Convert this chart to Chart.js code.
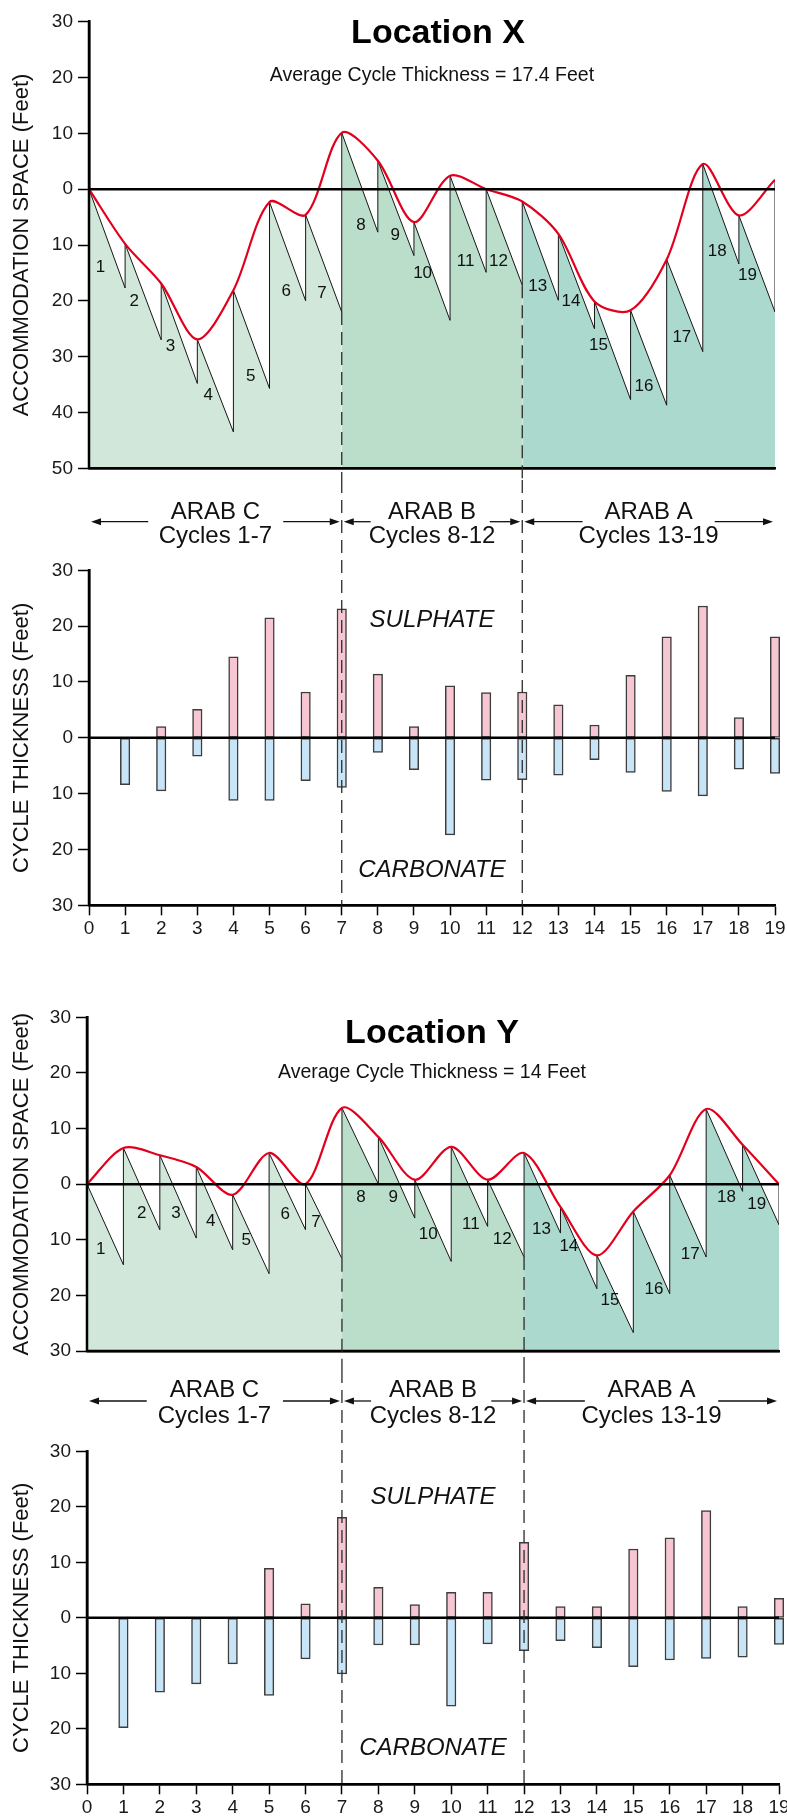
<!DOCTYPE html>
<html>
<head>
<meta charset="utf-8">
<script src="https://cdn.jsdelivr.net/npm/chart.js@4.4.0/dist/chart.umd.min.js"></script>
<style>
html,body{margin:0;padding:0;background:#fff;width:787px;height:1816px;overflow:hidden}
canvas{position:absolute;left:0;display:block}
</style>
</head>
<body>
<canvas id="c1" width="787" height="480" style="top:0px"></canvas>
<canvas id="c2" width="787" height="480" style="top:480px"></canvas>
<canvas id="c3" width="787" height="410" style="top:960px"></canvas>
<canvas id="c4" width="787" height="446" style="top:1370px"></canvas>
<script>
// ---------------- DATA ----------------
const cycles = [1,2,3,4,5,6,7,8,9,10,11,12,13,14,15,16,17,18,19];
const xTickValues = [0,1,2,3,4,5,6,7,8,9,10,11,12,13,14,15,16,17,18,19];
const accomTicksX = [-50,-40,-30,-20,-10,0,10,20,30];
const accomTicksY = [-30,-20,-10,0,10,20,30];
const thicknessTicks = [-30,-20,-10,0,10,20,30];

// Location X: peaks P0..P19 (top of each cycle) and bottoms B1..B19
const locXPeaks = [0, -9.8, -16.9, -26.9, -18.1, -2.3, -4.6, 10.1, 5.1, -5.9, 2.4, 0, -2.2, -8.0, -20.1, -21.7, -12.6, 4.5, -4.7, 1.7];
const locXBottoms = [-17.7, -27.0, -34.8, -43.5, -35.7, -20.0, -22.0, -7.7, -11.9, -23.5, -14.9, -17.2, -19.9, -25.0, -37.7, -38.7, -29.1, -13.4, -22.0];
const locXSulphate = [0, 2.0, 5.1, 14.5, 21.5, 8.2, 23.1, 11.4, 2.0, 9.3, 8.1, 8.2, 5.9, 2.3, 11.2, 18.1, 23.6, 3.6, 18.1];
const locXCarbonate = [8.4, 9.5, 3.3, 11.2, 11.2, 7.7, 8.9, 2.6, 5.7, 17.4, 7.6, 7.5, 6.7, 3.9, 6.2, 9.6, 10.4, 5.6, 6.4];

// Location Y
const locYPeaks = [0, 6.5, 5.2, 3.1, -1.9, 5.6, 0, 13.7, 8.5, 0.8, 6.7, 0.8, 5.6, -4.1, -12.8, -4.9, 1.6, 13.5, 7.1, 0];
const locYBottoms = [-14.5, -8.2, -9.7, -11.8, -16.1, -8.2, -13.4, 0, -6.1, -13.9, -7.6, -13.1, -8.8, -18.8, -26.7, -19.7, -13.1, -1.3, -7.3];
const locYSulphate = [0, 0, 0, 0, 8.9, 2.5, 18.1, 5.5, 2.4, 4.6, 4.6, 13.6, 2.0, 2.0, 12.4, 14.4, 19.3, 2.0, 3.5];
const locYCarbonate = [19.8, 13.4, 11.9, 8.3, 14.0, 7.4, 10.1, 4.9, 4.9, 15.9, 4.7, 5.9, 4.1, 5.4, 8.8, 7.6, 7.3, 7.1, 4.8];

const unitNames = ['ARAB C', 'ARAB B', 'ARAB A'];
const unitCycleText = ['Cycles 1-7', 'Cycles 8-12', 'Cycles 13-19'];
const unitBounds = [0, 7, 12, 19];

// ---------------- ANNOTATION PLACEMENT (data units) ----------------
const locXLabelAt = [[0.32,-14.06],[1.25,-20.03],[2.26,-28.09],[3.30,-36.87],[4.48,-33.46],[5.46,-18.36],[6.45,-18.65],
  [7.53,-6.41],[8.48,-8.20],[9.24,-15.06],[10.43,-12.99],[11.34,-12.99],[12.43,-17.34],[13.35,-20.03],[14.11,-27.91],
  [15.37,-35.38],[16.42,-26.6],[17.40,-11.07],[18.24,-15.49]];
const locYLabelAt = [[0.38,-11.66],[1.50,-5.24],[2.44,-5.24],[3.40,-6.75],[4.37,-10.04],[5.44,-5.37],[6.29,-6.93],
  [7.52,-2.44],[8.41,-2.44],[9.37,-9.02],[10.54,-7.22],[11.40,-9.86],[12.48,-8.12],[13.23,-11.25],[14.36,-20.83],
  [15.57,-18.9],[16.56,-12.61],[17.56,-2.36],[18.39,-3.57]];
const arrowSpans = [[0,1.64,'L'],[5.38,7,'R'],[7,7.8,'L'],[11.1,12,'R'],[12,13.67,'L'],[17.33,19,'R']];

// ---------------- STYLE ----------------
const FONT = "'Liberation Sans', Arial, Helvetica, sans-serif";
Chart.defaults.font.family = FONT;
Chart.defaults.color = '#1a1a1a';
const RED = '#e2001d';
const REGION_FILL = ['#d0e7da', '#badeca', '#acd9cd'];
const SULPH_FILL = '#f7c6d3';
const CARB_FILL = '#c8e5f7';

function seg(ctx, x1, y1, x2, y2) { ctx.beginPath(); ctx.moveTo(x1, y1); ctx.lineTo(x2, y2); ctx.stroke(); }
function dashed(ctx, x, y1, y2) {
  ctx.save(); ctx.strokeStyle = '#2a2a2a'; ctx.lineWidth = 1.3; ctx.setLineDash([13, 7]);
  seg(ctx, x, y1, x, y2); ctx.restore();
}
function arrowHead(ctx, x, y, dir) {
  ctx.beginPath(); ctx.moveTo(x, y); ctx.lineTo(x - dir * 10, y - 3.5); ctx.lineTo(x - dir * 10, y + 3.5); ctx.closePath(); ctx.fill();
}

function yScale(ticks, min, max, title, leftPx) {
  return {
    type: 'linear', min: min, max: max,
    afterBuildTicks: s => { s.ticks = ticks.map(v => ({ value: v })); },
    afterFit: s => { s.width = leftPx; s.paddingTop = 0; s.paddingBottom = 0; },
    ticks: { callback: v => String(Math.abs(v)), font: { size: 19 }, color: '#1a1a1a', padding: 5 },
    grid: { display: true, drawOnChartArea: false, drawTicks: true, tickLength: 11, tickColor: '#000', tickWidth: 1.5 },
    border: { display: true, color: '#000', width: 2.5 },
    title: { display: true, text: title, font: { size: 22 }, color: '#111', padding: { top: 9, bottom: 0 } }
  };
}

function regionPoints(peaks, bottoms, a, b) {
  const pts = [];
  if (a > 0) pts.push({ x: a, y: bottoms[a - 1] });
  pts.push({ x: a, y: peaks[a] });
  for (let i = a + 1; i <= b; i++) {
    pts.push({ x: i, y: bottoms[i - 1] });
    if (i < b || b === 19) pts.push({ x: i, y: peaks[i] });
  }
  return pts;
}

function makeAccom(id, cfg) {
  const canvas = document.getElementById(id);
  const H = canvas.height;
  const datasets = [{
    data: cfg.peaks.map((v, i) => ({ x: i, y: v })), borderColor: RED, borderWidth: 2.2,
    pointRadius: 0, tension: 0.3, fill: false
  }];
  for (let k = 0; k < 3; k++) {
    datasets.push({
      data: regionPoints(cfg.peaks, cfg.bottoms, unitBounds[k], unitBounds[k + 1]),
      borderColor: '#161616', borderWidth: 1, pointRadius: 0, tension: 0,
      fill: { value: cfg.yMin }, backgroundColor: REGION_FILL[k]
    });
  }
  const plugin = {
    id: 'accomAnn',
    afterDatasetsDraw(chart) {
      const { ctx, chartArea: a, scales: { x, y } } = chart;
      ctx.save();
      ctx.strokeStyle = '#000'; ctx.lineWidth = 2.5;
      const y0 = y.getPixelForValue(0);
      seg(ctx, a.left, y0, a.right, y0);
      seg(ctx, a.left, a.top - 1, a.left, a.bottom + 1);
      seg(ctx, a.left, a.bottom, a.right, a.bottom);
      [7, 12].forEach(b => dashed(ctx, x.getPixelForValue(b), y.getPixelForValue(cfg.bottoms[b - 1]), chart.height));
      ctx.fillStyle = '#111'; ctx.textAlign = 'center'; ctx.textBaseline = 'middle';
      ctx.font = '17px ' + FONT;
      cfg.labelAt.forEach((p, i) => ctx.fillText(String(cycles[i]), x.getPixelForValue(p[0]), y.getPixelForValue(p[1])));
      ctx.textBaseline = 'alphabetic'; ctx.fillStyle = '#000';
      ctx.font = 'bold 34px ' + FONT;
      ctx.fillText(cfg.title, cfg.titleX, cfg.titleY);
      ctx.font = '19.5px ' + FONT; ctx.fillStyle = '#111';
      ctx.fillText(cfg.subtitle, cfg.subX, cfg.subY);
      ctx.restore();
    }
  };
  new Chart(canvas, {
    type: 'line',
    data: { datasets },
    options: {
      responsive: false, animation: false, events: [],
      layout: { padding: { left: 0, top: cfg.top, right: 787 - cfg.right, bottom: H - cfg.bottom } },
      plugins: { legend: { display: false }, tooltip: { enabled: false } },
      scales: {
        x: {
          type: 'linear', min: 0, max: 19, offset: false,
          ticks: { display: false },
          grid: { display: true, drawOnChartArea: false, drawTicks: false },
          border: { display: true, color: '#000', width: 2.5 },
          afterFit: s => { s.height = 0; s.paddingLeft = 0; s.paddingRight = 0; }
        },
        y: yScale(cfg.ticks, cfg.yMin, cfg.yMax, 'ACCOMMODATION SPACE (Feet)', cfg.left)
      }
    },
    plugins: [plugin]
  });
}

function makeThickness(id, cfg) {
  const canvas = document.getElementById(id);
  const H = canvas.height;
  const XH = cfg.xHeight;
  const sulph = [], carb = [];
  cycles.forEach((c, i) => {
    if (cfg.sulphate[i] > 0) sulph.push({ x: c, y: [0, cfg.sulphate[i]] });
    if (cfg.carbonate[i] > 0) carb.push({ x: c, y: [-cfg.carbonate[i], 0] });
  });
  const barStyle = { borderColor: '#3d3d3d', borderWidth: 1.5, barThickness: 9.5, grouped: false, borderSkipped: false, clip: 12 };
  const plugin = {
    id: 'thickAnn',
    afterDatasetsDraw(chart) {
      const { ctx, chartArea: a, scales: { x, y } } = chart;
      ctx.save();
      ctx.strokeStyle = '#000'; ctx.lineWidth = 2.5;
      const y0 = y.getPixelForValue(0);
      seg(ctx, a.left, y0, a.right, y0);
      seg(ctx, a.left, a.top - 1, a.left, a.bottom + 1);
      seg(ctx, a.left, a.bottom, a.right, a.bottom);
      [7, 12].forEach(b => dashed(ctx, x.getPixelForValue(b), 0, a.bottom));
      ctx.fillStyle = '#111'; ctx.textAlign = 'center'; ctx.textBaseline = 'alphabetic';
      ctx.font = '24px ' + FONT;
      for (let g = 0; g < 3; g++) {
        const cx = (x.getPixelForValue(unitBounds[g]) + x.getPixelForValue(unitBounds[g + 1])) / 2;
        ctx.fillText(unitNames[g], cx, cfg.arabY);
        ctx.fillText(unitCycleText[g], cx, cfg.cycY);
      }
      ctx.strokeStyle = '#111'; ctx.lineWidth = 1.3;
      arrowSpans.forEach(([s, e, d]) => {
        let x1 = x.getPixelForValue(s), x2 = x.getPixelForValue(e);
        if (d === 'L') { x1 += 2; seg(ctx, x1 + 6, cfg.arrowY, x2, cfg.arrowY); arrowHead(ctx, x1, cfg.arrowY, -1); }
        else { x2 -= 2; seg(ctx, x1, cfg.arrowY, x2 - 6, cfg.arrowY); arrowHead(ctx, x2, cfg.arrowY, 1); }
      });
      ctx.font = 'italic 24px ' + FONT;
      ctx.fillText('SULPHATE', x.getPixelForValue(9.5), cfg.sulY);
      ctx.fillText('CARBONATE', x.getPixelForValue(9.5), cfg.carY);
      ctx.restore();
    }
  };
  new Chart(canvas, {
    type: 'bar',
    data: {
      datasets: [
        Object.assign({ data: sulph, backgroundColor: SULPH_FILL }, barStyle),
        Object.assign({ data: carb, backgroundColor: CARB_FILL }, barStyle)
      ]
    },
    options: {
      responsive: false, animation: false, events: [],
      layout: { padding: { left: 0, top: cfg.top, right: 787 - cfg.right, bottom: H - cfg.bottom - XH } },
      plugins: { legend: { display: false }, tooltip: { enabled: false } },
      scales: {
        x: {
          type: 'linear', min: 0, max: 19, offset: false,
          afterBuildTicks: s => { s.ticks = xTickValues.map(v => ({ value: v })); },
          afterFit: s => { s.height = XH; s.paddingLeft = 0; s.paddingRight = 0; },
          ticks: { font: { size: 19 }, color: '#1a1a1a', padding: 2, autoSkip: false, maxRotation: 0, callback: v => String(v) },
          grid: { display: true, offset: false, drawOnChartArea: false, drawTicks: true, tickLength: 10, tickColor: '#000', tickWidth: 1.5 },
          border: { display: true, color: '#000', width: 2.5 }
        },
        y: yScale(thicknessTicks, -30, 30, 'CYCLE THICKNESS (Feet)', cfg.left)
      }
    },
    plugins: [plugin]
  });
}

// ---------------- BUILD ----------------
makeAccom('c1', {
  peaks: locXPeaks, bottoms: locXBottoms, labelAt: locXLabelAt, ticks: accomTicksX,
  yMin: -50, yMax: 30, left: 89, right: 775, top: 21.7, bottom: 468.3,
  title: 'Location X', titleX: 438, titleY: 43.3,
  subtitle: 'Average Cycle Thickness = 17.4 Feet', subX: 432, subY: 81
});
makeThickness('c2', {
  sulphate: locXSulphate, carbonate: locXCarbonate,
  left: 89, right: 775, top: 90.3, bottom: 425.3, xHeight: 40,
  arabY: 39.3, cycY: 62.7, arrowY: 41.7, sulY: 147.3, carY: 396.7
});
makeAccom('c3', {
  peaks: locYPeaks, bottoms: locYBottoms, labelAt: locYLabelAt, ticks: accomTicksY,
  yMin: -30, yMax: 30, left: 87, right: 779, top: 57.3, bottom: 391,
  title: 'Location Y', titleX: 432, titleY: 83.3,
  subtitle: 'Average Cycle Thickness = 14 Feet', subX: 432, subY: 118.3
});
makeThickness('c4', {
  sulphate: locYSulphate, carbonate: locYCarbonate,
  left: 87, right: 779, top: 81.3, bottom: 414.3, xHeight: 30,
  arabY: 27.3, cycY: 52.7, arrowY: 31, sulY: 134, carY: 385
});
</script>
</body>
</html>
